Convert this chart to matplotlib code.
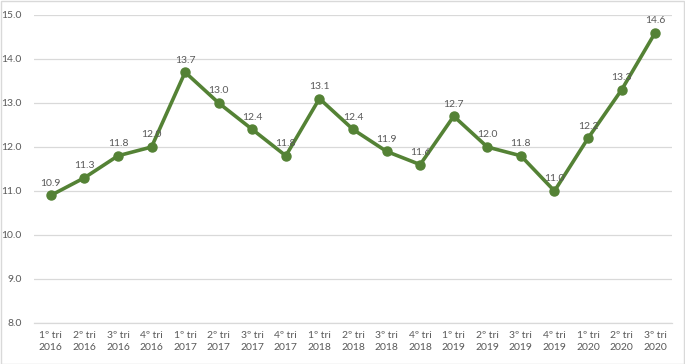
import matplotlib
matplotlib.use("Agg")
import matplotlib.pyplot as plt
from matplotlib.patches import Rectangle

categories = ["1º tri\n2016", "2º tri\n2016", "3º tri\n2016", "4º tri\n2016",
              "1º tri\n2017", "2º tri\n2017", "3º tri\n2017", "4º tri\n2017",
              "1º tri\n2018", "2º tri\n2018", "3º tri\n2018", "4º tri\n2018",
              "1º tri\n2019", "2º tri\n2019", "3º tri\n2019", "4º tri\n2019",
              "1º tri\n2020", "2º tri\n2020", "3º tri\n2020"]
values = [10.9, 11.3, 11.8, 12.0, 13.7, 13.0, 12.4, 11.8, 13.1, 12.4, 11.9, 11.6,
          12.7, 12.0, 11.8, 11.0, 12.2, 13.3, 14.6]
yticks = [8.0, 9.0, 10.0, 11.0, 12.0, 13.0, 14.0, 15.0]

plt.rcParams['font.family'] = ['Lato', 'DejaVu Sans']

W, H = 685, 364
fig = plt.figure(figsize=(W/100, H/100), dpi=100)
fig.patches.append(Rectangle((0.5/W, 0.5/H), 1 - 1.5/W, 1 - 1.5/H, transform=fig.transFigure,
                             fill=False, edgecolor='#d9d9d9', linewidth=1))
ax = fig.add_axes([34/W, 1 - 323/H, (672-34)/W, (323-15)/H])

x = list(range(len(values)))
color = '#548235'
ax.plot(x, values, color=color, linewidth=2.6, marker='o', markersize=6.5,
        markerfacecolor=color, markeredgecolor=color, zorder=3)
for xi, v in zip(x, values):
    ax.annotate(f"{v:.1f}", (xi, v), xytext=(0, 5.5), textcoords='offset points',
                ha='center', va='bottom', fontsize=7.5, color='#595959')

ax.set_xlim(-0.5, len(values) - 0.5)
ax.set_ylim(8.0, 15.0)
ax.set_yticks(yticks)
ax.set_yticklabels([f"{t:.1f}" for t in yticks])
ax.set_xticks(x)
ax.set_xticklabels(categories, linespacing=1.45)
ax.tick_params(axis='both', length=0, labelsize=7.5, colors='#595959')
ax.tick_params(axis='y', pad=9)
ax.tick_params(axis='x', pad=6)
ax.grid(axis='y', color='#d9d9d9', linewidth=0.9)
ax.set_axisbelow(True)
for s in ['top', 'right', 'left']:
    ax.spines[s].set_visible(False)
ax.spines['bottom'].set_color('#d9d9d9')
ax.spines['bottom'].set_linewidth(0.9)

fig.savefig("out.png", dpi=100)
